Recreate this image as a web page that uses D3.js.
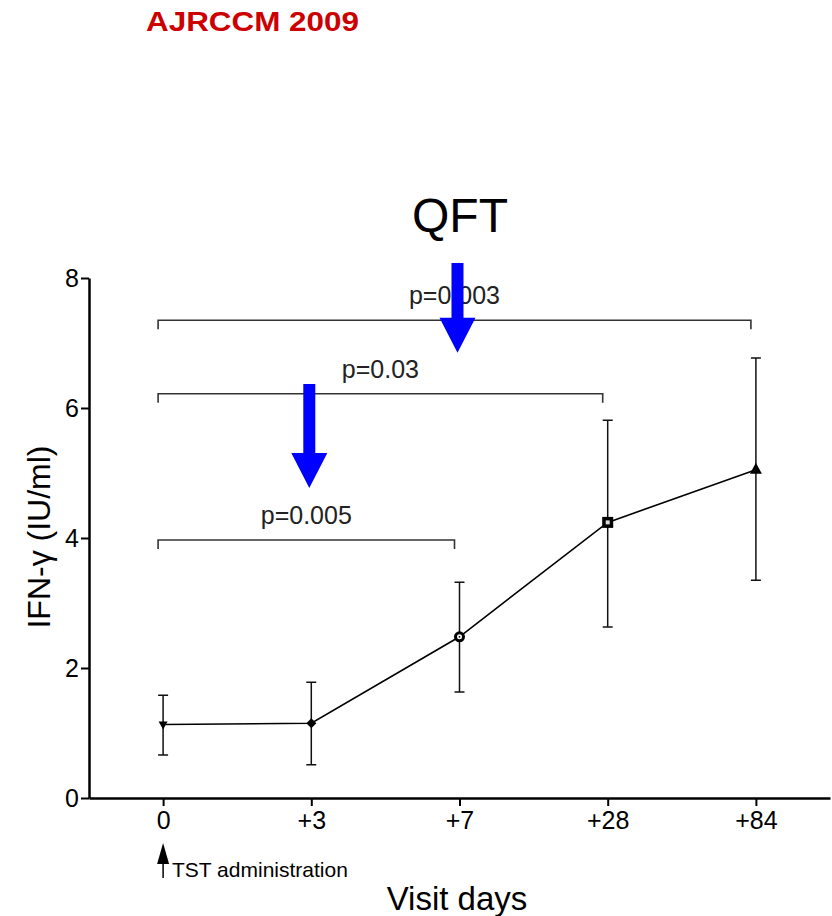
<html>
<head>
<meta charset="UTF-8">
<title>QFT</title>
<style>
  body { margin: 0; background: #fff; }
  text { font-family: "Liberation Sans", Arial, sans-serif; }
</style>
</head>
<body>
<script src="https://d3js.org/d3.v7.min.js"></script>
<script>
// data
let days = ["0", "+3", "+7", "+28", "+84"]
let means = [1.13, 1.15, 2.48, 4.24, 5.05]
let lower = [0.66, 0.51, 1.63, 2.63, 3.35]
let upper = [1.58, 1.78, 3.32, 5.81, 6.77]
let markers = ["down", "diamond", "ring", "square", "up"]
let yTicks = [0, 2, 4, 6, 8]

// significance brackets
let brFrom = ["0", "0", "0"]
let brTo = ["+7", "+28", "+84"]
let brLevel = [3.97, 6.22, 7.35]
let brLabel = ["p=0.005", "p=0.03", "p=0.003"]

// blue arrows (day, top value, tip value)
let arrowDay = ["+3", "+7"]
let arrowTop = [6.37, 8.23]
let arrowTip = [4.77, 6.85]

let W = 832, H = 916
let svg = d3.select("body").append("svg")
    .attr("width", W)
    .attr("height", H)

let x = d3.scalePoint().domain(days).range([89, 830]).padding(0.5)
let y = d3.scaleLinear().domain([0, 8]).range([798, 278])

// header + title
svg.append("text")
    .attr("x", 146).attr("y", 31)
    .attr("fill", "#cc0000")
    .attr("font-weight", "bold")
    .attr("font-size", 27)
    .attr("textLength", 213)
    .attr("lengthAdjust", "spacingAndGlyphs")
    .text("AJRCCM 2009")

svg.append("text")
    .attr("x", 460).attr("y", 232)
    .attr("text-anchor", "middle")
    .attr("font-size", 48)
    .text("QFT")

// axes
let yAxis = svg.append("g")
    .attr("transform", "translate(89,0)")
    .call(d3.axisLeft(y).tickValues(yTicks).tickSize(8).tickSizeOuter(0).tickFormat(d3.format("d")))
let xAxis = svg.append("g")
    .attr("transform", "translate(0,798)")
    .call(d3.axisBottom(x).tickSize(8).tickSizeOuter(0))

yAxis.attr("font-size", 25).attr("font-family", "Liberation Sans, Arial, sans-serif")
xAxis.attr("font-size", 25).attr("font-family", "Liberation Sans, Arial, sans-serif")
svg.selectAll(".domain").attr("stroke", "#000").attr("stroke-width", 2.5)
svg.selectAll(".tick line").attr("stroke", "#000").attr("stroke-width", 2)
yAxis.selectAll(".tick text").attr("x", -10).attr("fill", "#000")
xAxis.selectAll(".tick text").attr("y", 13).attr("fill", "#000")

// axis titles
svg.append("text")
    .attr("transform", "translate(50,537) rotate(-90)")
    .attr("text-anchor", "middle")
    .attr("font-size", 32)
    .text("IFN-γ (IU/ml)")

svg.append("text")
    .attr("x", 457).attr("y", 910)
    .attr("text-anchor", "middle")
    .attr("font-size", 33)
    .text("Visit days")

// TST administration note
let tx = x("0")
svg.append("line")
    .attr("x1", tx).attr("x2", tx)
    .attr("y1", 858).attr("y2", 878)
    .attr("stroke", "#000").attr("stroke-width", 1.5)
svg.append("path")
    .attr("d", `M${tx},843 L${tx - 6},864 L${tx + 6},864 Z`)
    .attr("fill", "#000")
svg.append("text")
    .attr("x", 172).attr("y", 877)
    .attr("font-size", 21)
    .text("TST administration")

// brackets
brLabel.forEach((lab, i) => {
    let x1 = x(brFrom[i]) - 5
    let x2 = x(brTo[i]) - 5
    let yy = y(brLevel[i])
    svg.append("path")
        .attr("d", `M${x1},${yy + 9} L${x1},${yy} L${x2},${yy} L${x2},${yy + 9}`)
        .attr("fill", "none")
        .attr("stroke", "#333")
        .attr("stroke-width", 1.6)
    svg.append("text")
        .attr("x", (x1 + x2) / 2).attr("y", yy - 16)
        .attr("text-anchor", "middle")
        .attr("font-size", 25)
        .attr("fill", "#222")
        .text(lab)
})

// error bars
let pts = days.map((d, i) => ({ day: d, m: means[i], lo: lower[i], hi: upper[i], mk: markers[i] }))

svg.selectAll(".err").data(pts).enter()
    .append("path")
    .attr("class", "err")
    .attr("d", d => {
        let cx = x(d.day)
        return `M${cx},${y(d.lo)} L${cx},${y(d.hi)} M${cx - 5},${y(d.lo)} L${cx + 5},${y(d.lo)} M${cx - 5},${y(d.hi)} L${cx + 5},${y(d.hi)}`
    })
    .attr("fill", "none")
    .attr("stroke", "#111")
    .attr("stroke-width", 1.5)

// mean line
svg.append("path")
    .datum(pts)
    .attr("d", d3.line().x(d => x(d.day)).y(d => y(d.m)))
    .attr("fill", "none")
    .attr("stroke", "#000")
    .attr("stroke-width", 1.6)

// markers
let mk = svg.selectAll(".mk").data(pts).enter()
    .append("g")
    .attr("transform", d => `translate(${x(d.day)},${y(d.m)})`)

mk.filter(d => d.mk == "down").append("path").attr("d", "M-4.5,-3 L4.5,-3 L0,5 Z").attr("fill", "#000")
mk.filter(d => d.mk == "diamond").append("path").attr("d", "M0,-5 L5,0 L0,5 L-5,0 Z").attr("fill", "#000")
mk.filter(d => d.mk == "up").append("path").attr("d", "M0,-7 L6,4 L-6,4 Z").attr("fill", "#000")
mk.filter(d => d.mk == "ring").append("circle").attr("r", 4).attr("fill", "#fff").attr("stroke", "#000").attr("stroke-width", 3)
mk.filter(d => d.mk == "ring").append("circle").attr("r", 0.9).attr("fill", "#000")
mk.filter(d => d.mk == "square").append("rect").attr("x", -5.5).attr("y", -5.5).attr("width", 11).attr("height", 11).attr("fill", "#000")
mk.filter(d => d.mk == "square").append("rect").attr("x", -2).attr("y", -2).attr("width", 4).attr("height", 4).attr("fill", "#ddd")

// blue arrows
arrowDay.forEach((d, i) => {
    let cx = x(d) - 2
    let top = y(arrowTop[i]), tip = y(arrowTip[i])
    let headTop = tip - 35
    svg.append("path")
        .attr("d", `M${cx - 6},${top} L${cx + 6},${top} L${cx + 6},${headTop} L${cx + 18},${headTop} L${cx},${tip} L${cx - 18},${headTop} L${cx - 6},${headTop} Z`)
        .attr("fill", "#0000ff")
})
</script>
</body>
</html>
